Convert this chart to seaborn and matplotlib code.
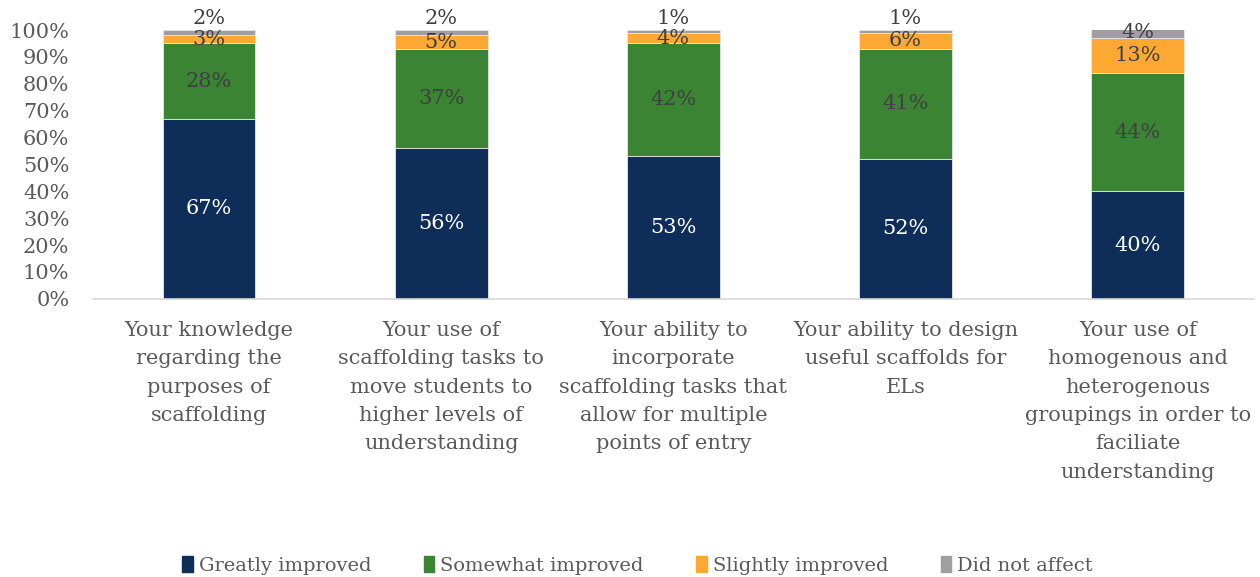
import matplotlib
matplotlib.use("Agg")
import matplotlib.pyplot as plt
import matplotlib.patches as mpatches
import seaborn as sns
import numpy as np
import pandas as pd

categories = [
    "Your knowledge\nregarding the\npurposes of\nscaffolding",
    "Your use of\nscaffolding tasks to\nmove students to\nhigher levels of\nunderstanding",
    "Your ability to\nincorporate\nscaffolding tasks that\nallow for multiple\npoints of entry",
    "Your ability to design\nuseful scaffolds for\nELs",
    "Your use of\nhomogenous and\nheterogenous\ngroupings in order to\nfaciliate\nunderstanding",
]
series_names = ["Greatly improved", "Somewhat improved", "Slightly improved", "Did not affect"]
greatly = [67, 56, 53, 52, 40]
somewhat = [28, 37, 42, 41, 44]
slightly = [3, 5, 4, 6, 13]
not_affect = [2, 2, 1, 1, 4]
y_ticks = [0, 10, 20, 30, 40, 50, 60, 70, 80, 90, 100]

colors = ["#0E2E59", "#3A8434", "#FCA832", "#9E9EA3"]
label_colors = ["white", "#404040", "#404040", "#404040"]

sns.set_theme(style="white")
plt.rcParams["font.family"] = ["DejaVu Serif"]

fig = plt.figure(figsize=(12.6, 5.77), dpi=100)
ax = fig.add_axes([0.0738, 0.482, 0.9212, 0.466])

series = [greatly, somewhat, slightly, not_affect]
bottom = np.zeros(len(categories))
for name, vals, col, lcol in zip(series_names, series, colors, label_colors):
    df = pd.DataFrame({"cat": categories, "val": vals})
    sns.barplot(data=df, x="cat", y="val", color=col, bottom=bottom,
                width=0.4, ax=ax, edgecolor="#E6E6E6", linewidth=0.6,
                saturation=1)
    for i, v in enumerate(vals):
        yc = bottom[i] + v / 2
        # thin top segments get their label lifted above the bar
        if name == "Did not affect" and v < 3:
            yc = 104.3
        ax.text(i, yc, f"{v}%", ha="center", va="center", fontsize=15,
                color=lcol, clip_on=False)
    bottom = bottom + np.array(vals)

ax.set_ylim(0, 100)
ax.set_xlim(-0.5, len(categories) - 0.5)
ax.set_yticks(y_ticks)
ax.set_yticklabels([f"{t}%" for t in y_ticks], fontsize=15, color="#595959")
ax.set_xticklabels(categories, fontsize=15, color="#595959", linespacing=1.62)
ax.tick_params(axis="both", length=0)
ax.tick_params(axis="x", pad=16)
ax.tick_params(axis="y", pad=17)
ax.set_xlabel("")
ax.set_ylabel("")
for s in ["top", "right", "left"]:
    ax.spines[s].set_visible(False)
ax.spines["bottom"].set_color("#D9D9D9")
ax.spines["bottom"].set_linewidth(1.2)

handles = [mpatches.Patch(color=c, label=n) for c, n in zip(colors, series_names)]
leg = fig.legend(handles=handles, loc="lower center", bbox_to_anchor=(0.506, -0.027),
                 ncol=4, frameon=False, fontsize=14, handlelength=0.55,
                 handleheight=0.9, handletextpad=0.3, columnspacing=2.7)
for t in leg.get_texts():
    t.set_color("#595959")

fig.savefig("out.png", dpi=100)
